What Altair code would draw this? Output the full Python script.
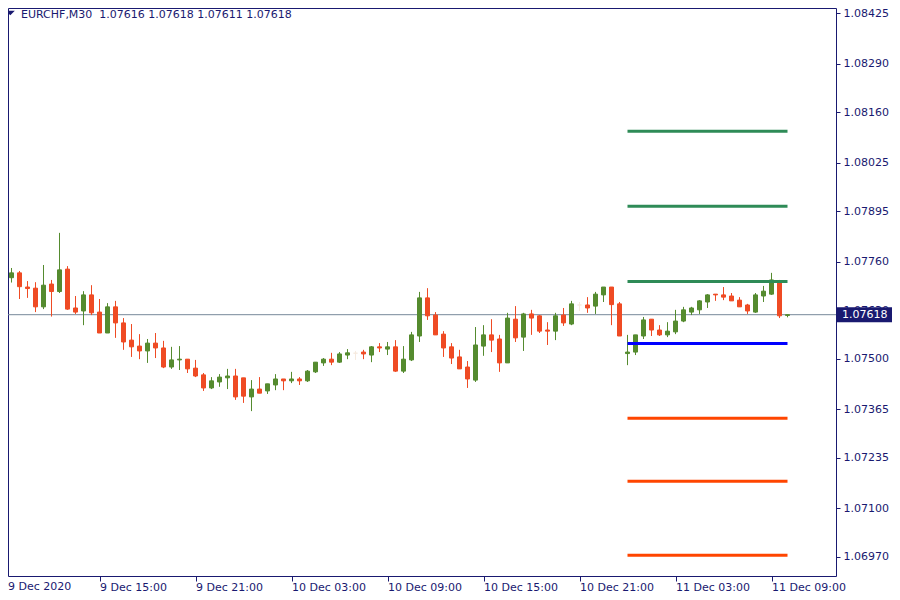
import json
import altair as alt
import pandas as pd

# ---------------- data (EURCHF, M30) ----------------
opens = [
    1.07735, 1.07717, 1.07730, 1.07692, 1.07689, 1.07639, 1.07700, 1.07680, 1.07740, 1.07636,
    1.07628, 1.07671, 1.07625, 1.07569, 1.07639, 1.07596, 1.07550, 1.07534, 1.07521, 1.07542,
    1.07529, 1.07478, 1.07497, 1.07499, 1.07475, 1.07457, 1.07422, 1.07438, 1.07449, 1.07454,
    1.07449, 1.07398, 1.07419, 1.07414, 1.07430, 1.07446, 1.07441, 1.07446, 1.07441, 1.07465,
    1.07489, 1.07499, 1.07491, 1.07510, 1.07515, 1.07518, 1.07510, 1.07532, 1.07526, 1.07532,
    1.07467, 1.07497, 1.07561, 1.07663, 1.07617, 1.07566, 1.07532, 1.07505, 1.07478, 1.07443,
    1.07534, 1.07564, 1.07553, 1.07489, 1.07606, 1.07558, 1.07620, 1.07615, 1.07577, 1.07574,
    1.07617, 1.07593, 1.07644, 1.07644, 1.07641, 1.07671, 1.07692, 1.07647, 1.07514, 1.07518,
    1.07561, 1.07606, 1.07577, 1.07564, 1.07572, 1.07601, 1.07625, 1.07631, 1.07652, 1.07673,
    1.07671, 1.07668, 1.07657, 1.07644, 1.07625, 1.07668, 1.07673, 1.07708, 1.07616,
]
highs = [
    1.07751, 1.07743, 1.07735, 1.07708, 1.07705, 1.07751, 1.07711, 1.07837, 1.07748, 1.07668,
    1.07681, 1.07697, 1.07660, 1.07649, 1.07655, 1.07609, 1.07593, 1.07566, 1.07553, 1.07569,
    1.07548, 1.07532, 1.07534, 1.07499, 1.07497, 1.07462, 1.07451, 1.07459, 1.07473, 1.07473,
    1.07449, 1.07443, 1.07451, 1.07433, 1.07459, 1.07446, 1.07465, 1.07451, 1.07470, 1.07491,
    1.07502, 1.07516, 1.07518, 1.07526, 1.07521, 1.07524, 1.07534, 1.07542, 1.07545, 1.07550,
    1.07534, 1.07572, 1.07679, 1.07689, 1.07625, 1.07574, 1.07542, 1.07524, 1.07494, 1.07585,
    1.07590, 1.07606, 1.07564, 1.07623, 1.07641, 1.07623, 1.07631, 1.07617, 1.07598, 1.07623,
    1.07636, 1.07655, 1.07652, 1.07665, 1.07679, 1.07692, 1.07692, 1.07652, 1.07564, 1.07564,
    1.07612, 1.07606, 1.07590, 1.07598, 1.07631, 1.07639, 1.07639, 1.07657, 1.07673, 1.07673,
    1.07692, 1.07676, 1.07665, 1.07647, 1.07676, 1.07695, 1.07730, 1.07711, 1.07618,
]
lows = [
    1.07711, 1.07704, 1.07660, 1.07663, 1.07625, 1.07633, 1.07613, 1.07676, 1.07631, 1.07620,
    1.07590, 1.07617, 1.07569, 1.07569, 1.07556, 1.07524, 1.07505, 1.07499, 1.07489, 1.07502,
    1.07475, 1.07473, 1.07470, 1.07462, 1.07451, 1.07414, 1.07419, 1.07425, 1.07419, 1.07390,
    1.07382, 1.07360, 1.07408, 1.07406, 1.07416, 1.07416, 1.07435, 1.07430, 1.07438, 1.07462,
    1.07481, 1.07483, 1.07489, 1.07499, 1.07497, 1.07499, 1.07491, 1.07518, 1.07510, 1.07465,
    1.07462, 1.07494, 1.07545, 1.07604, 1.07564, 1.07505, 1.07486, 1.07473, 1.07422, 1.07438,
    1.07508, 1.07518, 1.07465, 1.07489, 1.07545, 1.07521, 1.07564, 1.07569, 1.07537, 1.07550,
    1.07588, 1.07590, 1.07628, 1.07623, 1.07620, 1.07652, 1.07590, 1.07561, 1.07483, 1.07510,
    1.07553, 1.07561, 1.07561, 1.07558, 1.07566, 1.07598, 1.07617, 1.07620, 1.07636, 1.07655,
    1.07657, 1.07655, 1.07639, 1.07620, 1.07623, 1.07652, 1.07671, 1.07609, 1.07611,
]
closes = [
    1.07717, 1.07730, 1.07693, 1.07688, 1.07639, 1.07697, 1.07680, 1.07738, 1.07633, 1.07625,
    1.07671, 1.07623, 1.07569, 1.07639, 1.07596, 1.07545, 1.07532, 1.07521, 1.07542, 1.07529,
    1.07478, 1.07497, 1.07499, 1.07473, 1.07454, 1.07422, 1.07441, 1.07451, 1.07454, 1.07398,
    1.07400, 1.07419, 1.07408, 1.07433, 1.07446, 1.07441, 1.07446, 1.07441, 1.07467, 1.07491,
    1.07499, 1.07491, 1.07513, 1.07516, 1.07515, 1.07513, 1.07532, 1.07529, 1.07532, 1.07467,
    1.07499, 1.07564, 1.07663, 1.07615, 1.07564, 1.07529, 1.07502, 1.07473, 1.07446, 1.07537,
    1.07564, 1.07550, 1.07489, 1.07609, 1.07556, 1.07620, 1.07609, 1.07574, 1.07574, 1.07615,
    1.07596, 1.07647, 1.07644, 1.07636, 1.07673, 1.07692, 1.07645, 1.07561, 1.07518, 1.07564,
    1.07604, 1.07577, 1.07564, 1.07574, 1.07601, 1.07631, 1.07636, 1.07655, 1.07671, 1.07671,
    1.07665, 1.07655, 1.07639, 1.07628, 1.07671, 1.07681, 1.07711, 1.07615, 1.07618,
]

x_tick_bars = [12, 24, 36, 48, 60, 72, 84, 96]
x_tick_labels = ["9 Dec 15:00", "9 Dec 21:00", "10 Dec 03:00", "10 Dec 09:00",
                 "10 Dec 15:00", "10 Dec 21:00", "11 Dec 03:00", "11 Dec 09:00"]
first_label = "9 Dec 2020"

y_ticks = [1.08425, 1.08290, 1.08160, 1.08025, 1.07895, 1.07760, 1.07630,
           1.07500, 1.07365, 1.07235, 1.07100, 1.06970]

level_names = ["R3", "R2", "R1", "P", "S1", "S2", "S3"]
level_values = [1.08109, 1.07908, 1.07707, 1.07541, 1.07341, 1.07172, 1.06974]
level_kinds = ["res", "res", "res", "pivot", "sup", "sup", "sup"]
level_from_bar = 78
level_to_bar = 98

current_price = 1.07618
header_text = "EURCHF,M30\u00a0 1.07616 1.07618 1.07611 1.07618"

# ---------------- styling ----------------
NAVY = "#191970"
BULL = "#558B2F"
BEAR = "#EF4B24"
DOJI = "#F6EADF"
FONT = "DejaVu Sans"

W, H = 828, 568
x_dom = [0.5625, 104.0625]
y_dom = [1.0691876, 1.0843873]

def direction(o, c):
    if c > o:
        return "up"
    if c < o:
        return "down"
    return "doji"

candles = pd.DataFrame({
    "bar": list(range(len(opens))),
    "open": opens, "high": highs, "low": lows, "close": closes,
})
candles["dir"] = [direction(o, c) for o, c in zip(opens, closes)]

levels = pd.DataFrame({
    "name": level_names, "value": level_values, "kind": level_kinds,
    "b0": level_from_bar, "b1": level_to_bar,
})

label_map = {str(b): lab for b, lab in zip(x_tick_bars, x_tick_labels)}

x_scale = alt.Scale(domain=x_dom, nice=False, zero=False, padding=0)
y_scale = alt.Scale(domain=y_dom, nice=False, zero=False, padding=0)

x_axis = alt.Axis(
    values=x_tick_bars, labelExpr=f"{json.dumps(label_map)}[datum.value]",
    title=None, domain=False, grid=False, tickColor=NAVY, tickSize=5,
    labelColor=NAVY, labelFont=FONT, labelFontSize=11, labelAlign="left",
    labelBaseline="top", labelPadding=0, labelFlush=False, labelOverlap=False,
)
y_axis = alt.Axis(
    values=y_ticks, format=".5f", orient="right", title=None, domain=False,
    grid=False, tickColor=NAVY, tickSize=4, labelColor=NAVY, labelFont=FONT,
    labelFontSize=11, labelPadding=3, labelFlush=False, labelOverlap=False,
)

dir_scale = alt.Scale(domain=["up", "down", "doji"], range=[BULL, BEAR, DOJI])
level_scale = alt.Scale(domain=["res", "pivot", "sup"],
                        range=["#2E8B57", "#0000FF", "#FF4500"])

price_line = alt.Chart(pd.DataFrame({"p": [current_price]})).mark_rule(
    color="#778899", strokeWidth=1
).encode(y=alt.Y("p:Q", scale=y_scale, axis=y_axis))

wicks = alt.Chart(candles).mark_rule(strokeWidth=1, clip=True).encode(
    x=alt.X("bar:Q", scale=x_scale, axis=x_axis),
    y=alt.Y("low:Q", scale=y_scale, axis=y_axis),
    y2="high:Q",
    color=alt.Color("dir:N", scale=dir_scale, legend=None),
)

bodies = alt.Chart(candles).mark_bar(size=4, strokeWidth=1, clip=True).encode(
    x=alt.X("bar:Q", scale=x_scale, axis=x_axis),
    y=alt.Y("open:Q", scale=y_scale, axis=y_axis),
    y2="close:Q",
    fill=alt.Fill("dir:N", scale=dir_scale, legend=None),
    stroke=alt.Stroke("dir:N", scale=dir_scale, legend=None),
)

level_lines = alt.Chart(levels).mark_rule(strokeWidth=3).encode(
    x=alt.X("b0:Q", scale=x_scale, axis=x_axis),
    x2="b1:Q",
    y=alt.Y("value:Q", scale=y_scale, axis=y_axis),
    color=alt.Color("kind:N", scale=level_scale, legend=None),
)

price_box = alt.Chart(pd.DataFrame({"p": [current_price]})).mark_rect(
    color=NAVY, height=15
).encode(
    x=alt.value(W), x2=alt.value(W + 62),
    y=alt.Y("p:Q", scale=y_scale, axis=y_axis),
)
price_text = alt.Chart(pd.DataFrame({"p": [current_price]})).mark_text(
    color="white", font=FONT, fontSize=11, align="left", baseline="middle"
).encode(
    x=alt.value(W + 6),
    y=alt.Y("p:Q", scale=y_scale, axis=y_axis),
    text=alt.Text("p:Q", format=".5f"),
)

header = alt.Chart(pd.DataFrame({"t": [header_text]})).mark_text(
    color=NAVY, font=FONT, fontSize=11, align="left", baseline="alphabetic"
).encode(x=alt.value(13), y=alt.value(10), text="t:N")

triangle = alt.Chart(pd.DataFrame({"t": ["menu"]})).mark_point(
    shape="M-1,-0.5L1,-0.5L0,0.5Z", size=81, filled=True, color=NAVY, opacity=1
).encode(x=alt.value(2.3), y=alt.value(5))

first_date = alt.Chart(pd.DataFrame({"t": [first_label]})).mark_text(
    color=NAVY, font=FONT, fontSize=11, align="left", baseline="top"
).encode(x=alt.value(0), y=alt.value(H + 5), text="t:N")

chart = alt.layer(
    price_line, wicks, bodies, level_lines, price_box, price_text,
    header, triangle, first_date,
).resolve_scale(
    color="independent"
).properties(
    width=W, height=H,
    autosize=alt.AutoSizeParams(type="none"),
    padding={"left": 0, "top": 0, "right": 56, "bottom": 16},
    background="white",
).configure_view(stroke=NAVY, strokeWidth=1)

chart.save("out.html", embed_options={"renderer": "svg", "actions": False})
